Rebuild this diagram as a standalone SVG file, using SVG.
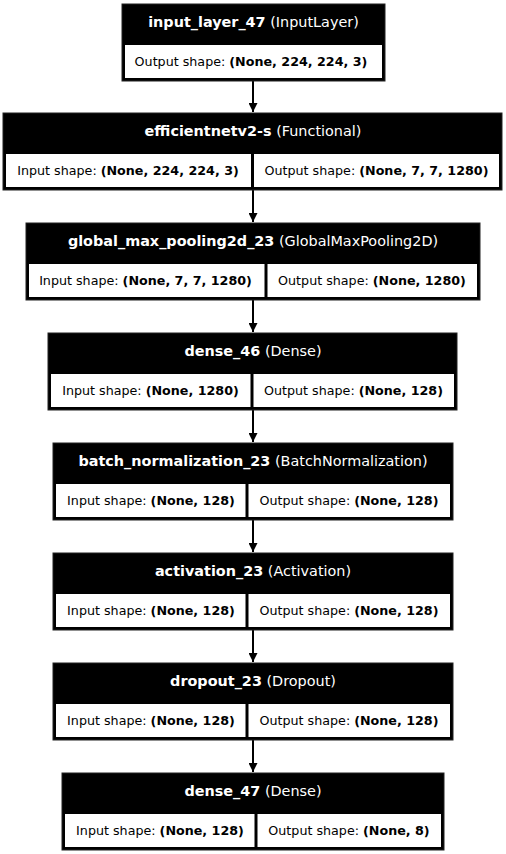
<svg xmlns="http://www.w3.org/2000/svg" width="506" height="854" viewBox="0 0 506 854">
  <defs>
    <style>
      .frame { fill: #000; stroke: #222; stroke-width: 1; }
      .cell { fill: #fff; }
      .head { font-family: "DejaVu Sans", sans-serif; font-size: 14.4px; fill: #fff; text-anchor: middle; }
      .row { font-family: "DejaVu Sans", sans-serif; font-size: 12.7px; fill: #000; text-anchor: middle; }
      .b { font-weight: bold; }
      .edge { stroke: #000; stroke-width: 2; fill: none; }
    </style>
    <marker id="arrow" viewBox="0 0 10 10" refX="10" refY="5" markerWidth="4.5" markerHeight="4.5" orient="auto" markerUnits="strokeWidth">
      <path d="M0,0 L10,5 L0,10 Z" fill="#000"/>
    </marker>
  </defs>
  <rect width="506" height="854" fill="#fff"/>

  <g id="connectors">
    <line class="edge" x1="253" y1="81" x2="253" y2="112" marker-end="url(#arrow)"/>
    <line class="edge" x1="253" y1="190" x2="253" y2="222" marker-end="url(#arrow)"/>
    <line class="edge" x1="253" y1="300" x2="253" y2="332" marker-end="url(#arrow)"/>
    <line class="edge" x1="253" y1="410" x2="253" y2="442" marker-end="url(#arrow)"/>
    <line class="edge" x1="253" y1="520" x2="253" y2="552" marker-end="url(#arrow)"/>
    <line class="edge" x1="253" y1="630" x2="253" y2="662" marker-end="url(#arrow)"/>
    <line class="edge" x1="253" y1="740" x2="253" y2="772" marker-end="url(#arrow)"/>
  </g>

  <g id="input_layer_47">
    <rect class="frame" x="122" y="4" width="263" height="77"/>
    <rect class="cell" x="125" y="45" width="257" height="33"/>
    <text class="head" x="253.5" y="26.5"><tspan class="b">input_layer_47</tspan> (InputLayer)</text>
    <text class="row" x="251" y="65.5">Output shape: <tspan class="b">(None, 224, 224, 3)</tspan></text>
  </g>

  <g id="efficientnetv2-s">
    <rect class="frame" x="3" y="113" width="499" height="77"/>
    <rect class="cell" x="6" y="154" width="245" height="33"/>
    <rect class="cell" x="254" y="154" width="245" height="33"/>
    <text class="head" x="253" y="136"><tspan class="b">efficientnetv2-s</tspan> (Functional)</text>
    <text class="row" x="128" y="175">Input shape: <tspan class="b">(None, 224, 224, 3)</tspan></text>
    <text class="row" x="376.5" y="175">Output shape: <tspan class="b">(None, 7, 7, 1280)</tspan></text>
  </g>

  <g id="global_max_pooling2d_23">
    <rect class="frame" x="26" y="223" width="454" height="77"/>
    <rect class="cell" x="29" y="264" width="235.5" height="33"/>
    <rect class="cell" x="267.5" y="264" width="209.5" height="33"/>
    <text class="head" x="253" y="246"><tspan class="b">global_max_pooling2d_23</tspan> (GlobalMaxPooling2D)</text>
    <text class="row" x="145.5" y="285">Input shape: <tspan class="b">(None, 7, 7, 1280)</tspan></text>
    <text class="row" x="372" y="285">Output shape: <tspan class="b">(None, 1280)</tspan></text>
  </g>

  <g id="dense_46">
    <rect class="frame" x="48" y="333" width="409" height="77"/>
    <rect class="cell" x="51" y="374" width="199.5" height="33"/>
    <rect class="cell" x="253.5" y="374" width="200.5" height="33"/>
    <text class="head" x="253" y="356"><tspan class="b">dense_46</tspan> (Dense)</text>
    <text class="row" x="150.5" y="395">Input shape: <tspan class="b">(None, 1280)</tspan></text>
    <text class="row" x="353.5" y="395">Output shape: <tspan class="b">(None, 128)</tspan></text>
  </g>

  <g id="batch_normalization_23">
    <rect class="frame" x="53" y="443" width="400" height="77"/>
    <rect class="cell" x="56" y="484" width="189.5" height="33"/>
    <rect class="cell" x="248.5" y="484" width="201.5" height="33"/>
    <text class="head" x="253" y="466"><tspan class="b">batch_normalization_23</tspan> (BatchNormalization)</text>
    <text class="row" x="151" y="505">Input shape: <tspan class="b">(None, 128)</tspan></text>
    <text class="row" x="349" y="505">Output shape: <tspan class="b">(None, 128)</tspan></text>
  </g>

  <g id="activation_23">
    <rect class="frame" x="53" y="553" width="400" height="77"/>
    <rect class="cell" x="56" y="594" width="189.5" height="33"/>
    <rect class="cell" x="248.5" y="594" width="201.5" height="33"/>
    <text class="head" x="253" y="576"><tspan class="b">activation_23</tspan> (Activation)</text>
    <text class="row" x="151" y="615">Input shape: <tspan class="b">(None, 128)</tspan></text>
    <text class="row" x="349" y="615">Output shape: <tspan class="b">(None, 128)</tspan></text>
  </g>

  <g id="dropout_23">
    <rect class="frame" x="53" y="663" width="400" height="77"/>
    <rect class="cell" x="56" y="704" width="189.5" height="33"/>
    <rect class="cell" x="248.5" y="704" width="201.5" height="33"/>
    <text class="head" x="253" y="686"><tspan class="b">dropout_23</tspan> (Dropout)</text>
    <text class="row" x="151" y="725">Input shape: <tspan class="b">(None, 128)</tspan></text>
    <text class="row" x="349" y="725">Output shape: <tspan class="b">(None, 128)</tspan></text>
  </g>

  <g id="dense_47">
    <rect class="frame" x="62" y="773" width="382" height="77"/>
    <rect class="cell" x="65" y="814" width="189.5" height="33"/>
    <rect class="cell" x="257.5" y="814" width="183.5" height="33"/>
    <text class="head" x="253" y="796"><tspan class="b">dense_47</tspan> (Dense)</text>
    <text class="row" x="160" y="835">Input shape: <tspan class="b">(None, 128)</tspan></text>
    <text class="row" x="349" y="835">Output shape: <tspan class="b">(None, 8)</tspan></text>
  </g>
</svg>
